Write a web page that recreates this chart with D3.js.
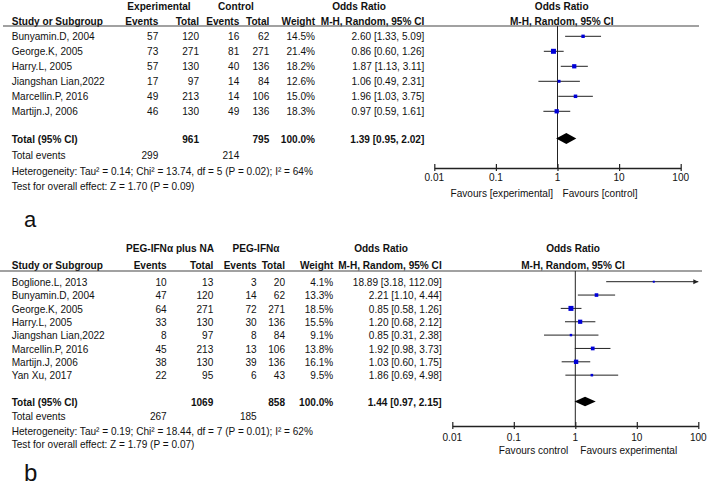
<!DOCTYPE html>
<html><head><meta charset="utf-8">
<script src="https://cdn.jsdelivr.net/npm/d3@7"></script>
<style>
html,body{margin:0;padding:0;background:#fff;}
svg text{font-family:Arial,"Liberation Sans",sans-serif;fill:#111;}
</style></head>
<body><svg id="c" width="708" height="490"></svg>
<script>
// ---------- Panel a data ----------
const studiesA = ["Bunyamin.D, 2004","George.K, 2005","Harry.L, 2005","Jiangshan Lian,2022","Marcellin.P, 2016","Martijn.J, 2006"];
const expEventsA = [57,73,57,17,49,46];
const expTotalA  = [120,271,130,97,213,130];
const ctlEventsA = [16,81,40,14,14,49];
const ctlTotalA  = [62,271,136,84,106,136];
const weightA    = [14.5,21.4,18.2,12.6,15.0,18.3];
const orA        = [2.60,0.86,1.87,1.06,1.96,0.97];
const loA        = [1.33,0.60,1.13,0.49,1.03,0.59];
const hiA        = [5.09,1.26,3.11,2.31,3.75,1.61];
const totalCiA   = [1.39,0.95,2.02];
const totalNA    = [961,795];
const totalEvA   = [299,214];
const groupsA    = ["Experimental","Control"];
const favoursA   = ["Favours [experimental]","Favours [control]"];
const hetA  = "Heterogeneity: Tau\u00b2 = 0.14; Chi\u00b2 = 13.74, df = 5 (P = 0.02); I\u00b2 = 64%";
const testA = "Test for overall effect: Z = 1.70 (P = 0.09)";

// ---------- Panel b data ----------
const studiesB = ["Boglione.L, 2013","Bunyamin.D, 2004","George.K, 2005","Harry.L, 2005","Jiangshan Lian,2022","Marcellin.P, 2016","Martijn.J, 2006","Yan Xu, 2017"];
const expEventsB = [10,47,64,33,8,45,38,22];
const expTotalB  = [13,120,271,130,97,213,130,95];
const ctlEventsB = [3,14,72,30,8,13,39,6];
const ctlTotalB  = [20,62,271,136,84,106,136,43];
const weightB    = [4.1,13.3,18.5,15.5,9.1,13.8,16.1,9.5];
const orB        = [18.89,2.21,0.85,1.20,0.85,1.92,1.03,1.86];
const loB        = [3.18,1.10,0.58,0.68,0.31,0.98,0.60,0.69];
const hiB        = [112.09,4.44,1.26,2.12,2.38,3.73,1.75,4.98];
const totalCiB   = [1.44,0.97,2.15];
const totalNB    = [1069,858];
const totalEvB   = [267,185];
const groupsB    = ["PEG-IFN\u03b1 plus NA","PEG-IFN\u03b1"];
const favoursB   = ["Favours control","Favours experimental"];
const hetB  = "Heterogeneity: Tau\u00b2 = 0.19; Chi\u00b2 = 18.44, df = 7 (P = 0.01); I\u00b2 = 62%";
const testB = "Test for overall effect: Z = 1.79 (P = 0.07)";

// ---------- shared ----------
const tickValues = [0.01,0.1,1,10,100];
const tickLabels = ["0.01","0.1","1","10","100"];
const colHeaders = ["Events","Total","Events","Total","Weight","M-H, Random, 95% CI"];

const svg = d3.select("#c");
svg.append("rect").attr("width",708).attr("height",490).attr("fill","#fff");
const f2 = d3.format(".2f"), f1 = d3.format(".1f");
const FS = 11.4, SX = 0.885;

function txt(g,x,y,s,o={}){
  return g.append("text").attr("transform",`translate(${x},${y}) scale(${SX},1)`)
    .attr("x",0).attr("y",0).attr("dy","0.36em")
    .attr("font-size",o.size||FS).attr("font-weight",o.bold?"bold":"normal")
    .attr("text-anchor",o.anchor||"start").text(s);
}

function panel(d,L){
  const g = svg.append("g");
  const x = d3.scaleLog().domain([0.01,100]).range(L.range).clamp(true);
  const rowY = i => L.rowY0 + i*L.step;
  const sz = d3.scaleLinear().domain([0,d3.max(d.weight)]).range([0,L.maxSq]);

  // header
  txt(g,L.groupC[0],L.h1,d.groups[0],{bold:true,anchor:"middle"});
  txt(g,L.groupC[1],L.h1,d.groups[1],{bold:true,anchor:"middle"});
  txt(g,L.orHdrC,L.h1,"Odds Ratio",{bold:true,anchor:"middle"});
  txt(g,L.plotC,L.h1,"Odds Ratio",{bold:true,anchor:"middle"});
  txt(g,L.nameX,L.h2,"Study or Subgroup",{bold:true});
  colHeaders.forEach((h,k)=>txt(g,L.cols[k],L.h2,h,{bold:true,anchor:"end"}));
  txt(g,L.plotC,L.h2,"M-H, Random, 95% CI",{bold:true,anchor:"middle"});
  g.append("line").attr("x1",L.ulX[0]).attr("x2",L.ulX[1]).attr("y1",L.ulY).attr("y2",L.ulY)
    .attr("stroke","#444").attr("stroke-width",1.2);

  // vertical line at OR = 1
  g.append("line").attr("x1",x(1)).attr("x2",x(1)).attr("y1",L.ulY).attr("y2",L.axisY)
    .attr("stroke","#222").attr("stroke-width",1);

  // rows
  d.studies.forEach((s,i)=>{
    const y = rowY(i);
    txt(g,L.nameX,y,s);
    txt(g,L.cols[0],y,d.expEv[i],{anchor:"end"});
    txt(g,L.cols[1],y,d.expN[i],{anchor:"end"});
    txt(g,L.cols[2],y,d.ctlEv[i],{anchor:"end"});
    txt(g,L.cols[3],y,d.ctlN[i],{anchor:"end"});
    txt(g,L.cols[4],y,f1(d.weight[i])+"%",{anchor:"end"});
    txt(g,L.cols[5],y,`${f2(d.or[i])} [${f2(d.lo[i])}, ${f2(d.hi[i])}]`,{anchor:"end"});
    g.append("line").attr("x1",x(d.lo[i])).attr("x2",x(d.hi[i])).attr("y1",y).attr("y2",y)
      .attr("stroke","#222").attr("stroke-width",1);
    if(d.hi[i]>100){
      const xe = x(100);
      g.append("path").attr("d",`M${xe},${y} L${xe-5},${y-2.5} L${xe-5},${y+2.5} Z`).attr("fill","#222");
    }
    const w = Math.max(2,sz(d.weight[i]));
    g.append("rect").attr("x",x(d.or[i])-w/2).attr("y",y-w/2).attr("width",w).attr("height",w)
      .attr("fill","#0000d8");
  });

  // totals
  txt(g,L.nameX,L.totY,"Total (95% CI)",{bold:true});
  txt(g,L.cols[1],L.totY,d.totalN[0],{bold:true,anchor:"end"});
  txt(g,L.cols[3],L.totY,d.totalN[1],{bold:true,anchor:"end"});
  txt(g,L.cols[4],L.totY,"100.0%",{bold:true,anchor:"end"});
  txt(g,L.cols[5],L.totY,`${f2(d.tot[0])} [${f2(d.tot[1])}, ${f2(d.tot[2])}]`,{bold:true,anchor:"end"});
  const ty=L.totY, dh=L.dh;
  g.append("path").attr("d",`M${x(d.tot[1])},${ty} L${x(d.tot[0])},${ty-dh} L${x(d.tot[2])},${ty} L${x(d.tot[0])},${ty+dh} Z`)
    .attr("fill","#000");
  txt(g,L.nameX,L.evY,"Total events");
  txt(g,L.cols[0],L.evY,d.totalEv[0],{anchor:"end"});
  txt(g,L.cols[2],L.evY,d.totalEv[1],{anchor:"end"});
  txt(g,L.nameX,L.hetY,d.het);
  txt(g,L.nameX,L.testY,d.test);

  // axis
  const ax = g.append("g").attr("transform",`translate(0,${L.axisY})`)
    .call(d3.axisBottom(x).tickValues(tickValues).tickFormat("")
      .tickSizeInner(3).tickSizeOuter(0));
  ax.select(".domain").attr("stroke","#222").attr("stroke-width",1.4);
  ax.selectAll(".tick line").attr("y1",-4).attr("stroke","#222").attr("stroke-width",1.2);
  tickValues.forEach((v,k)=>txt(g,x(v),L.tickY,tickLabels[k],{anchor:"middle"}));
  txt(g,x(1)-L.favGap[0],L.favY,d.favours[0],{anchor:"end"});
  txt(g,x(1)+L.favGap[1],L.favY,d.favours[1]);

  // panel letter
  g.append("text").attr("x",L.letterX).attr("y",L.letterY).attr("font-size",L.letterSize)
    .attr("fill","#222").text(L.letter);
}

panel({studies:studiesA,expEv:expEventsA,expN:expTotalA,ctlEv:ctlEventsA,ctlN:ctlTotalA,weight:weightA,
  or:orA,lo:loA,hi:hiA,tot:totalCiA,totalN:totalNA,totalEv:totalEvA,groups:groupsA,favours:favoursA,het:hetA,test:testA},
  {range:[434.3,680.7],rowY0:36.3,step:15,h1:6,h2:20.5,ulY:26,ulX:[3,699],nameX:11.7,
   cols:[158.3,199,239.3,269.3,315,424.3],groupC:[159,236],orHdrC:359,plotC:561.7,
   totY:138.5,evY:155,hetY:170.5,testY:185.5,axisY:168,tickY:177.3,favY:193.3,favGap:[4.5,5],
   dh:5.6,maxSq:5,letter:"a",letterX:24,letterY:227,letterSize:22});

panel({studies:studiesB,expEv:expEventsB,expN:expTotalB,ctlEv:ctlEventsB,ctlN:ctlTotalB,weight:weightB,
  or:orB,lo:loB,hi:hiB,tot:totalCiB,totalN:totalNB,totalEv:totalEvB,groups:groupsB,favours:favoursB,het:hetB,test:testB},
  {range:[452.3,698.3],rowY0:281.7,step:13.35,h1:247.5,h2:265,ulY:271,ulX:[0,702],nameX:11.7,
   cols:[166.7,213.3,256.7,285,333.3,441.7],groupC:[170,256],orHdrC:381,plotC:573,
   totY:401.5,evY:415.7,hetY:430.5,testY:443.5,axisY:426,tickY:436.7,favY:450,favGap:[7,5],
   dh:4.8,maxSq:5,letter:"b",letterX:24,letterY:481,letterSize:24});
</script></body></html>
